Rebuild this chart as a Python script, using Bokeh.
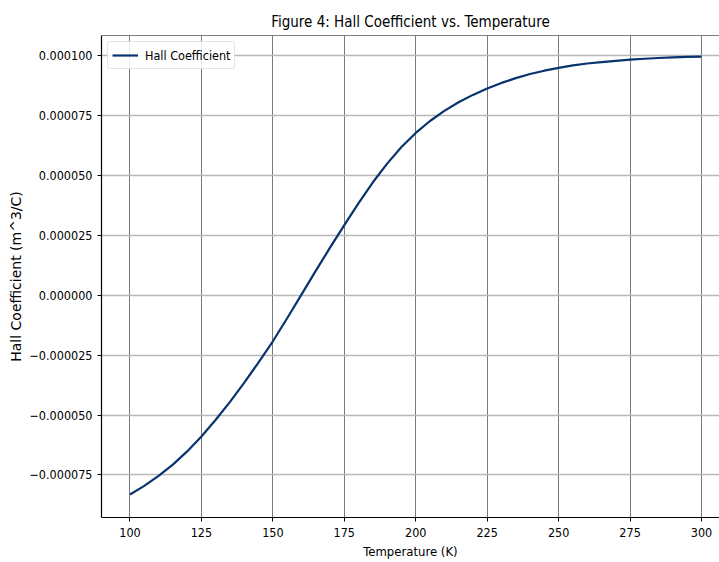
from bokeh.plotting import figure
from bokeh.models import FixedTicker, CustomJSTickFormatter, Range1d, ColumnDataSource, Legend, LegendItem, Span
from bokeh.embed import file_html
from bokeh.resources import INLINE

# Temperature (K)
temperature = [100, 105, 110, 115, 120, 125, 130, 135, 140, 145,
               150, 155, 160, 165, 170, 175, 180, 185, 190, 195,
               200, 205, 210, 215, 220, 225, 230, 235, 240, 245,
               250, 255, 260, 265, 270, 275, 280, 285, 290, 295, 300]
# Hall coefficient in units of 1e-6 m^3/C
hall_micro = [-83.2, -79.6, -75.4, -70.7, -65.2, -59.0, -52.0, -44.5, -36.5, -28.0,
              -19.2, -9.6, 0.3, 10.2, 19.9, 29.3, 38.5, 47.2, 55.0, 61.9,
              67.8, 72.8, 77.0, 80.6, 83.7, 86.4, 88.7, 90.7, 92.4, 93.8,
              95.0, 96.0, 96.8, 97.4, 97.9, 98.4, 98.8, 99.1, 99.4, 99.6, 99.7]
hall_coefficient = [v * 1e-6 for v in hall_micro]

x_ticks = [100, 125, 150, 175, 200, 225, 250, 275, 300]
y_ticks = [-0.000075, -0.000050, -0.000025, 0.0, 0.000025, 0.000050, 0.000075, 0.000100]

title_text = "Figure 4: Hall Coefficient vs. Temperature"
x_label = "Temperature (K)"
y_label = "Hall Coefficient (m^3/C)"
series_name = "Hall Coefficient"

FONT = "DejaVu Sans Condensed"
Y_TOP = 108.5e-6

p = figure(width=719, height=562, output_backend="svg", toolbar_location=None,
           x_range=Range1d(90.03, 306.3), y_range=Range1d(-92.8e-6, Y_TOP),
           min_border_left=101, min_border_right=0, min_border_top=35, min_border_bottom=45)

p.background_fill_color = "white"
p.border_fill_color = "white"
p.outline_line_color = None

p.title.text = title_text
p.title.align = "center"
p.title.text_font = FONT
p.title.text_font_size = "15px"
p.title.text_font_style = "normal"
p.title.text_color = "black"
p.title.offset = 5

src = ColumnDataSource(data=dict(t=temperature, r=hall_coefficient))
line = p.line("t", "r", source=src, line_color="#08336e", line_width=2.2, line_join="round")

# top spine
p.add_layout(Span(location=Y_TOP, dimension="width", line_color="black", line_width=1.2))

p.xaxis.ticker = FixedTicker(ticks=x_ticks)
p.yaxis.ticker = FixedTicker(ticks=y_ticks)
p.yaxis.formatter = CustomJSTickFormatter(code="""
    if (Math.abs(tick) < 1e-12) { return "0.000000"; }
    var s = Math.abs(tick).toFixed(6);
    return (tick < 0 ? "\u2212" : "") + s;
""")

for ax in (p.xaxis, p.yaxis):
    ax.axis_line_color = "black"
    ax.axis_line_width = 1.2
    ax.major_tick_line_color = "black"
    ax.major_tick_out = 4
    ax.major_tick_in = 0
    ax.minor_tick_line_color = None
    ax.major_label_text_font = FONT
    ax.major_label_text_font_size = "12.5px"
    ax.major_label_text_color = "black"
    ax.axis_label_text_font_style = "normal"
    ax.axis_label_text_color = "black"

p.xaxis.axis_label = x_label
p.xaxis.axis_label_text_font = FONT
p.xaxis.axis_label_text_font_size = "13px"
p.xaxis.major_label_standoff = 6
p.xaxis.axis_label_standoff = 4

p.yaxis.axis_label = y_label
p.yaxis.axis_label_text_font = "DejaVu Sans"
p.yaxis.axis_label_text_font_size = "14px"
p.yaxis.major_label_standoff = 5
p.yaxis.axis_label_standoff = 2

p.xgrid.grid_line_color = "#7a7a7a"
p.xgrid.grid_line_width = 1
p.ygrid.grid_line_color = "#b8b8b8"
p.ygrid.grid_line_width = 1.6

legend = Legend(items=[LegendItem(label=series_name, renderers=[line])], location="top_left")
legend.margin = 6
legend.padding = 4
legend.spacing = 0
legend.glyph_width = 26
legend.glyph_height = 18
legend.label_height = 18
legend.label_standoff = 7
legend.label_text_font = FONT
legend.label_text_font_size = "12.5px"
legend.label_text_color = "black"
legend.border_line_color = "#cccccc"
legend.border_line_width = 1
legend.border_radius = 3
legend.background_fill_alpha = 0.85
p.add_layout(legend)

open("out.html", "w").write(file_html(p, INLINE))
